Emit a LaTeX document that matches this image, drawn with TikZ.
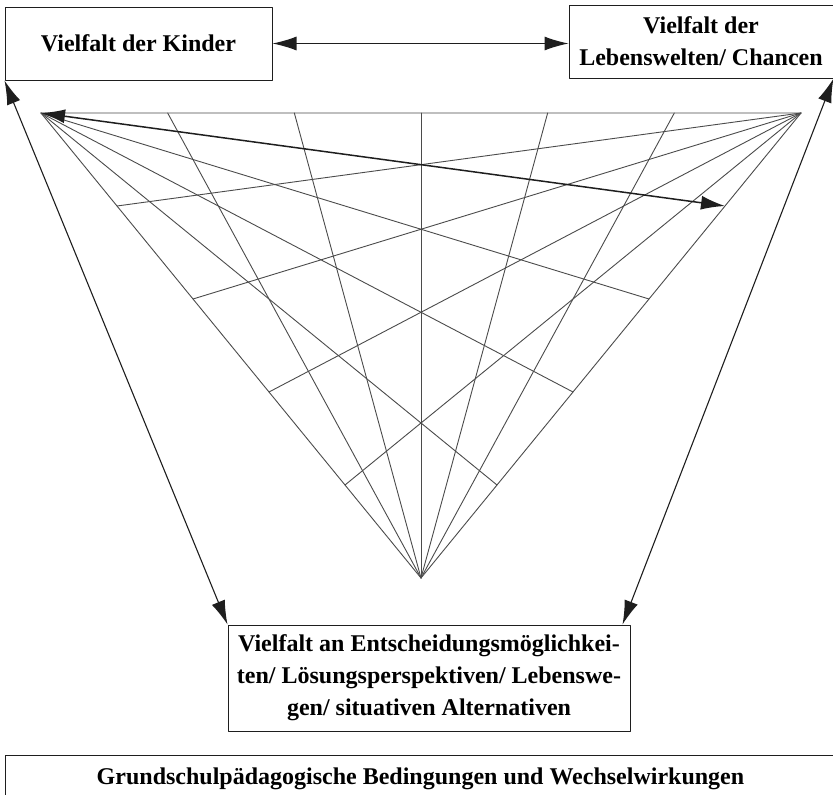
\documentclass[tikz,border=0pt]{standalone}
\usepackage{fontspec}
\setmainfont{Liberation Serif}
\usetikzlibrary{calc,arrows.meta}

\begin{document}
\begin{tikzpicture}[x=1pt, y=-1pt, line cap=round, line join=round,
    box/.style={draw=boxgray, line width=1pt, inner sep=0pt, align=center,
      font=\fontsize{24}{32}\selectfont\bfseries},
    grid/.style={draw=gridgray, line width=0.9pt},
    link/.style={draw=boxgray, line width=1.1pt,
      {Latex[length=24pt,width=14pt]}-{Latex[length=24pt,width=14pt]}}]
  \definecolor{boxgray}{RGB}{30,30,30}
  \definecolor{gridgray}{RGB}{75,75,75}
  \useasboundingbox (0,0) rectangle (833,795);
  \coordinate (L) at (41,113);
  \coordinate (R) at (801,113);
  \coordinate (B) at (421,578);
  \draw[grid] (L) -- (R) -- (B) -- cycle;
  \foreach \i in {1,...,5}
    \draw[grid] (B) -- ($(L)!\i/6!(R)$);
  \foreach \i in {1,...,4}
    \draw[grid] (R) -- ($(L)!\i/5!(B)$);
  \foreach \i in {2,...,4}
    \draw[grid] (L) -- ($(R)!\i/5!(B)$);
  \coordinate (P) at ($(R)!1/5!(B)$);
  \draw[link, line width=1.5pt] (L) -- (P);

  \node[box, minimum width=267, minimum height=73] (kinder) at (138.5,43.5) {Vielfalt der Kinder};
  \node[box, minimum width=264, minimum height=73] (welten) at (701,41.5) {Vielfalt der\\Lebenswelten/ Chancen};
  \node[box, minimum width=402, minimum height=106] (wege) at (429,678)
    {Vielfalt an Entscheidungsmöglichkei-\\ten/ Lösungsperspektiven/ Lebenswe-\\gen/ situativen Alternativen};
  \node[box, anchor=north, minimum width=831, minimum height=46] (bedingungen) at (420.5,755)
    {Grundschulpädagogische Bedingungen und Wechselwirkungen};

  \draw[link] (kinder.east) -- (kinder.east -| welten.west);
  \draw[link] (kinder.south west) -- (wege.north west);
  \draw[link] (welten.south east) -- ([xshift=-8pt]wege.north east);
\end{tikzpicture}
\end{document}
